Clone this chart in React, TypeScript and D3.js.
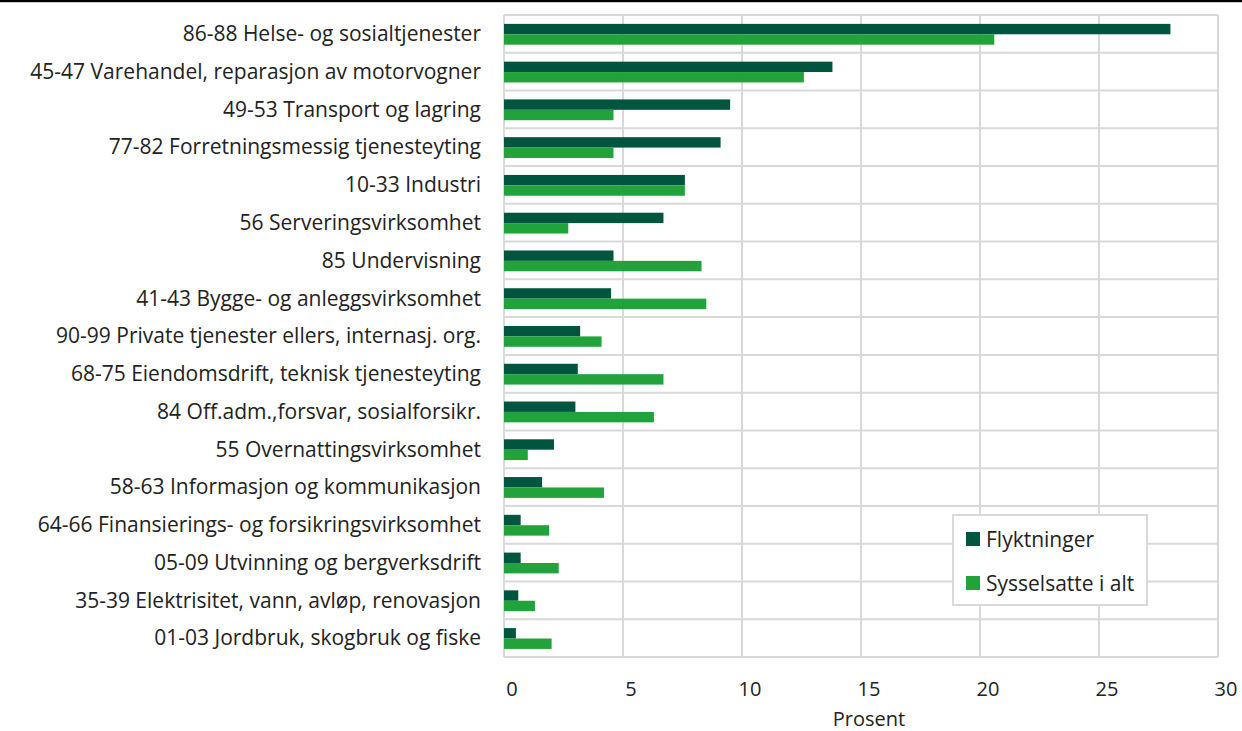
import React from "react";
import * as d3 from "d3";

const categories = [
  "86-88 Helse- og sosialtjenester",
  "45-47 Varehandel, reparasjon av motorvogner",
  "49-53 Transport og lagring",
  "77-82 Forretningsmessig tjenesteyting",
  "10-33 Industri",
  "56 Serveringsvirksomhet",
  "85 Undervisning",
  "41-43 Bygge- og anleggsvirksomhet",
  "90-99 Private tjenester ellers, internasj. org.",
  "68-75 Eiendomsdrift, teknisk tjenesteyting",
  "84 Off.adm.,forsvar, sosialforsikr.",
  "55 Overnattingsvirksomhet",
  "58-63 Informasjon og kommunikasjon",
  "64-66 Finansierings- og forsikringsvirksomhet",
  "05-09 Utvinning og bergverksdrift",
  "35-39 Elektrisitet, vann, avløp, renovasjon",
  "01-03 Jordbruk, skogbruk og fiske",
];

const flyktninger = [28.0, 13.8, 9.5, 9.1, 7.6, 6.7, 4.6, 4.5, 3.2, 3.1, 3.0, 2.1, 1.6, 0.7, 0.7, 0.6, 0.5];
const sysselsatte = [20.6, 12.6, 4.6, 4.6, 7.6, 2.7, 8.3, 8.5, 4.1, 6.7, 6.3, 1.0, 4.2, 1.9, 2.3, 1.3, 2.0];

const seriesNames = ["Flyktninger", "Sysselsatte i alt"];
const seriesColors = ["#00553f", "#22a23a"];
const xTicks = [0, 5, 10, 15, 20, 25, 30];
const xTitle = "Prosent";

const W = 1242;
const H = 731;
const FONT = "'Open Sans', 'Noto Sans', sans-serif";

export default function App() {
  const left = 504;
  const right = 1218;
  const top = 15;
  const bottom = 657;

  const x = d3.scaleLinear().domain([0, 30]).range([left, right]);
  const y = d3.scaleBand<string>().domain(categories).range([top, bottom]).padding(0);
  const bw = y.bandwidth();
  const barH = 10.4;

  const hLines = d3.range(categories.length + 1).map((i) => top + i * bw);

  return (
    <svg
      width={W}
      height={H}
      style={{ position: "absolute", left: 0, top: 0, background: "#fff" }}
      fontFamily={FONT}
    >
      <rect x={0} y={0} width={W} height={2.2} fill="#000" />
      {hLines.map((yy, i) => (
        <line key={"h" + i} x1={left} x2={right} y1={yy} y2={yy} stroke="#d9d9d9" strokeWidth={2} />
      ))}
      {xTicks.map((t) => (
        <line key={"v" + t} x1={x(t)} x2={x(t)} y1={top} y2={bottom} stroke="#d9d9d9" strokeWidth={2} />
      ))}
      {categories.map((c, i) => {
        const cy = (y(c) as number) + bw / 2 + 0.4;
        return (
          <g key={c}>
            <rect x={x(0)} y={cy - barH} width={x(flyktninger[i]) - x(0)} height={barH} fill={seriesColors[0]} />
            <rect x={x(0)} y={cy} width={x(sysselsatte[i]) - x(0)} height={barH} fill={seriesColors[1]} />
            <text x={481} y={(y(c) as number) + bw / 2 + 7.3} textAnchor="end" fontSize={21} fill="#222">
              {c}
            </text>
          </g>
        );
      })}
      {xTicks.map((t) => (
        <text key={"t" + t} x={x(t) + 8} y={696} textAnchor="middle" fontSize={20} fill="#222">
          {t}
        </text>
      ))}
      <text x={869} y={726} textAnchor="middle" fontSize={20} fill="#222">
        {xTitle}
      </text>
      <rect x={953} y={515} width={194} height={90} fill="#fff" stroke="#d9d9d9" strokeWidth={2} />
      {seriesNames.map((s, i) => (
        <g key={s}>
          <rect x={966} y={532 + i * 44} width={14} height={14} fill={seriesColors[i]} />
          <text x={986} y={546.5 + i * 44} fontSize={21} fill="#222">
            {s}
          </text>
        </g>
      ))}
    </svg>
  );
}
